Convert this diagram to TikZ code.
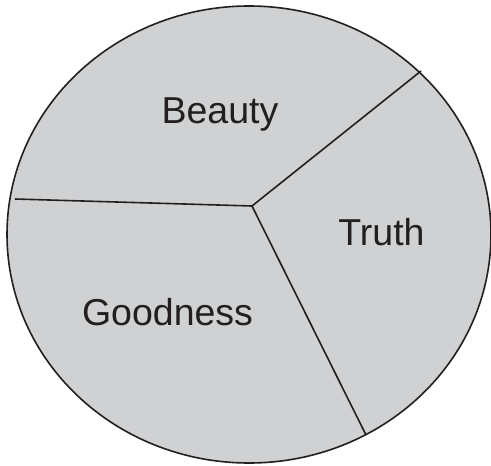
\documentclass[tikz,border=0pt]{standalone}
\usepackage{fontspec}
\setmainfont{Liberation Sans}
\definecolor{piefill}{RGB}{208,209,211}
\definecolor{pieline}{RGB}{35,31,32}
\begin{document}
\begin{tikzpicture}[x=1pt,y=-1pt,
  divider/.style={draw=pieline,line width=1.6pt},
  label/.style={font=\fontsize{37.5}{40}\selectfont,text=pieline,inner sep=0pt}]
\useasboundingbox (0,0) rectangle (491,466);
\fill[piefill] (249,234.5) ellipse [x radius=242, y radius=228.5];
\draw[pieline,line width=1.6pt] (249,234.5) ellipse [x radius=242, y radius=228.5];
\coordinate (c) at (252,206);
\coordinate (ur) at (421,71);
\coordinate (bt) at (366,435);
\coordinate (lf) at (15,199);
\draw[divider] (lf) -- (c);
\draw[divider] (c) -- (ur);
\draw[divider] (c) -- (bt);
\node[label,anchor=base] (beauty) at (220,123) {Beauty};
\node[label,anchor=base] (truth) at (381.5,245) {Truth};
\node[label,anchor=base] (goodness) at (167.5,325) {Goodness};
\end{tikzpicture}
\end{document}
